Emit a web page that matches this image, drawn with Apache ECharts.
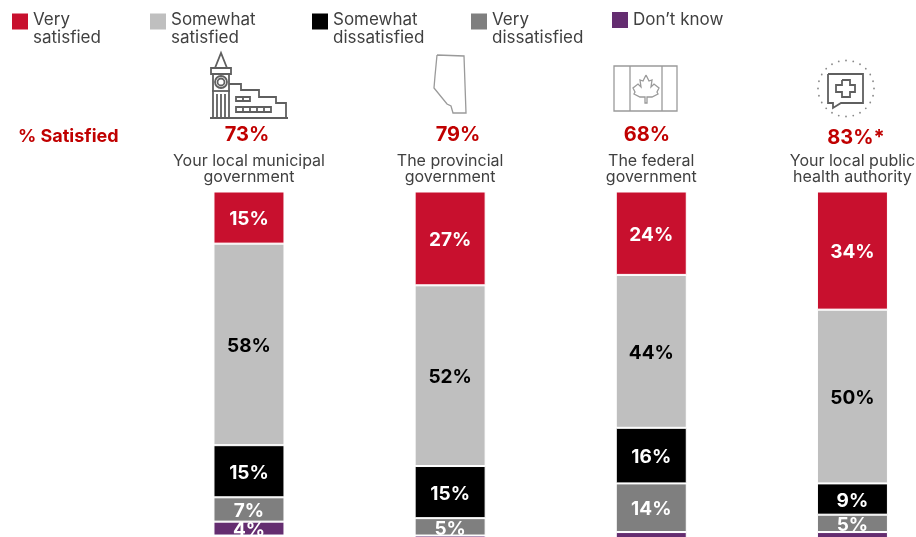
<!DOCTYPE html>
<html>
<head>
<meta charset="utf-8">
<style>html,body{margin:0;padding:0;background:#fff}#chart{width:916px;height:537px}</style>
<script src="https://cdn.jsdelivr.net/npm/echarts@6/dist/echarts.min.js"></script>
</head>
<body>
<div id="chart"></div>
<script>
const categories = ['Your local municipal\ngovernment', 'The provincial\ngovernment', 'The federal\ngovernment', 'Your local public\nhealth authority'];
const verySatisfied = [15, 27, 24, 34];
const somewhatSatisfied = [58, 52, 44, 50];
const somewhatDissatisfied = [15, 15, 16, 9];
const veryDissatisfied = [7, 5, 14, 5];
const dontKnow = [4, 1, 2, 2];
const satisfiedTotals = ['73%', '79%', '68%', '83%*'];

const FONT = 'Inter, "DejaVu Sans", sans-serif';
const INK = '#404040';
const STROKE = '#5f5f5f';

const seriesDefs = [
  { name: 'Very satisfied', data: verySatisfied, color: '#C8102E', label: '#fff' },
  { name: 'Somewhat satisfied', data: somewhatSatisfied, color: '#BFBFBF', label: '#000' },
  { name: 'Somewhat dissatisfied', data: somewhatDissatisfied, color: '#000000', label: '#fff' },
  { name: 'Very dissatisfied', data: veryDissatisfied, color: '#7F7F7F', label: '#fff' },
  { name: "Don\u2019t know", data: dontKnow, color: '#642D70', label: '#fff' }
];

// Swatch sits at the top of a taller box so it lines up with the first text line
const topSwatch = 'path://M0 0H18V18H0Z M0 33H0.01V33Z';
const legendSlots = [10, 148, 310, 469, 610];
const legends = seriesDefs.map((s, i) => ({
  data: [s.name],
  left: legendSlots[i],
  top: i === 4 ? 10 : 11,
  orient: 'horizontal',
  icon: i === 4 ? 'rect' : topSwatch,
  itemWidth: 18,
  itemHeight: i === 4 ? 18 : 33,
  itemGap: 0,
  padding: 0,
  selectedMode: false,
  formatter: n => (n.startsWith('Don') ? n : n.replace(' ', '\n')),
  textStyle: { fontFamily: FONT, fontSize: 17, lineHeight: 18, color: INK, padding: [0, 0, 0, -1] }
}));

const series = seriesDefs.map(s => ({
  name: s.name,
  type: 'bar',
  stack: 'total',
  barWidth: 71,
  data: s.data,
  itemStyle: { color: s.color, borderColor: '#fff', borderWidth: 1 },
  label: {
    show: true,
    position: 'inside',
    offset: [0, 2],
    fontFamily: FONT,
    fontWeight: 'bold',
    fontSize: 19,
    color: s.label,
    formatter: p => (p.value >= 4 ? p.value + '%' : '')
  }
}));

// Line art above each column
const line = { stroke: STROKE, fill: 'none', lineWidth: 1.8 };
const thin = { stroke: '#9a9a9a', fill: 'none', lineWidth: 1.3 };
const poly = (points, style) => ({ type: 'polyline', shape: { points }, style: style || line, silent: true });
const rect = (x, y, width, height, style) => ({ type: 'rect', shape: { x, y, width, height }, style: style || line, silent: true });
const seg = (x1, y1, x2, y2, style) => ({ type: 'line', shape: { x1, y1, x2, y2 }, style: style || line, silent: true });
const ring = (cx, cy, r, style) => ({ type: 'circle', shape: { cx, cy, r }, style: style || line, silent: true });

const townHall = [
  poly([[215, 68], [221, 53], [227, 68]]),
  rect(211, 68, 20, 6),
  ring(221, 82, 6), ring(221, 82, 3.5),
  seg(213, 74, 213, 118), seg(229, 74, 229, 118),
  seg(212, 91, 230, 91),
  seg(217, 94, 217, 118), seg(221, 94, 221, 118), seg(225, 94, 225, 118),
  poly([[229, 84], [241, 84], [241, 90], [259, 90], [259, 97], [276, 97], [276, 103], [286, 103], [286, 118]]),
  seg(210, 118, 288, 118),
  rect(236, 97, 14, 4), seg(243, 97, 243, 101),
  rect(236, 107, 35, 5), seg(243, 107, 243, 112), seg(250, 107, 250, 112), seg(257, 107, 257, 112), seg(264, 107, 264, 112)
];

const alberta = [
  poly([[437, 55], [464, 56], [466, 113], [453, 113], [451, 106], [447, 104], [434, 88], [435, 76], [437, 55]], thin)
];

const flag = [
  rect(614, 66, 63, 45, thin),
  seg(630, 66, 630, 111, thin), seg(662, 66, 662, 111, thin),
  poly([[646, 75], [649, 81], [652, 80], [651, 87], [654, 84], [659, 88], [657, 92], [658, 94], [652, 97], [647, 97], [647, 103], [645, 103], [645, 97], [640, 97], [634, 94], [635, 92], [633, 88], [638, 84], [641, 87], [640, 80], [643, 81], [646, 75]], thin)
];

const dotStyle = { fill: '#8a8a8a' };
const dotAngles = [0, 15, 30, 45, 60, 75, 90, 105, 120, 135, 150, 165, 180, 195, 210, 225, 240, 255, 270, 285, 300, 315, 330, 345];
const health = dotAngles.map(a => ({
  type: 'circle',
  shape: { cx: 846 + 28 * Math.cos(a * Math.PI / 180), cy: 88.5 + 28 * Math.sin(a * Math.PI / 180), r: 0.9 },
  style: dotStyle,
  silent: true
})).concat([
  poly([[828, 74], [863, 74], [863, 103], [841, 103], [833, 108], [833, 103], [828, 103], [828, 74]]),
  poly([[842, 80], [850, 80], [850, 85], [855, 85], [855, 92], [850, 92], [850, 97], [842, 97], [842, 92], [836, 92], [836, 85], [842, 85], [842, 80]])
]);

const pctStyle = { fontFamily: FONT, fontWeight: 'bold', fontSize: 20, fill: '#C00000', textAlign: 'center', textVerticalAlign: 'middle' };
const pctSlots = [[247, 135], [458, 135], [647, 135], [856, 138]];
const totals = satisfiedTotals.map((t, i) => ({
  type: 'text', x: pctSlots[i][0], y: pctSlots[i][1], silent: true,
  style: Object.assign({ text: t }, pctStyle)
}));
const sideLabel = {
  type: 'text', x: 18, y: 137, silent: true,
  style: { text: '% Satisfied', fontFamily: FONT, fontWeight: 'bold', fontSize: 18, fill: '#C00000', textVerticalAlign: 'middle' }
};

const chart = echarts.init(document.getElementById('chart'), null, { renderer: 'canvas' });
chart.setOption({
  animation: false,
  backgroundColor: '#fff',
  legend: legends,
  // The last column's band and the 100% line run past the canvas edge
  grid: { left: 148.4, right: -37, top: 191.5, bottom: -2, containLabel: false, outerBoundsMode: 'none' },
  xAxis: {
    type: 'category',
    position: 'top',
    data: categories,
    axisLine: { show: false },
    axisTick: { show: false },
    axisLabel: { fontFamily: FONT, fontSize: 16, lineHeight: 16, color: INK, margin: 6, interval: 0 }
  },
  yAxis: { type: 'value', inverse: true, min: 0, max: 100, show: false, splitLine: { show: false } },
  series,
  graphic: [].concat(townHall, alberta, flag, health, totals, [sideLabel])
});
</script>
</body>
</html>
